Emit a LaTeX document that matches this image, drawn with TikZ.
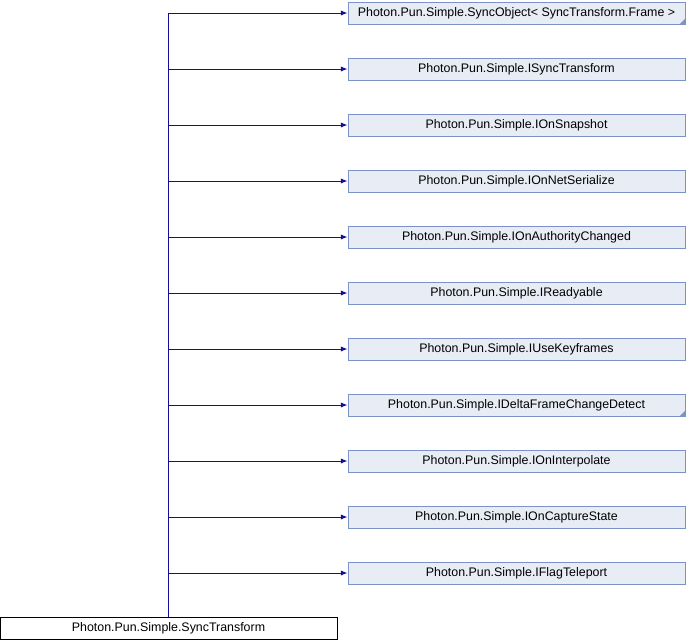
\documentclass[tikz,border=0pt]{standalone}
\usepackage{fontspec}
\setmainfont{Liberation Sans}
\usetikzlibrary{arrows.meta}
\definecolor{boxfill}{HTML}{E8ECF5}
\definecolor{boxdraw}{HTML}{7C93C8}
\definecolor{edgecol}{HTML}{10109A}
\tikzset{
  cls/.style={draw=boxdraw, fill=boxfill, line width=0.75pt, minimum width=337*0.75pt, minimum height=22*0.75pt, inner sep=0pt, font=\fontsize{9.3pt}{11pt}\selectfont},
  basecls/.style={draw=black, fill=white, line width=0.75pt, minimum width=337*0.75pt, minimum height=22*0.75pt, inner sep=0pt, font=\fontsize{9.3pt}{11pt}\selectfont},
  inh/.style={draw=edgecol, line width=0.75pt, -{Latex[length=5pt,width=4pt]}},
}
\begin{document}
\begin{tikzpicture}[x=0.75pt,y=-0.75pt]
\useasboundingbox (0,0) rectangle (686,640);
\node[basecls] (base) at (168.5,628) {Photon.Pun.Simple.SyncTransform};
\node[cls] (t1) at (516.5,13) {Photon.Pun.Simple.SyncObject< SyncTransform.Frame >};
\node[cls] (t2) at (516.5,69) {Photon.Pun.Simple.ISyncTransform};
\node[cls] (t3) at (516.5,125) {Photon.Pun.Simple.IOnSnapshot};
\node[cls] (t4) at (516.5,181) {Photon.Pun.Simple.IOnNetSerialize};
\node[cls] (t5) at (516.5,237) {Photon.Pun.Simple.IOnAuthorityChanged};
\node[cls] (t6) at (516.5,293) {Photon.Pun.Simple.IReadyable};
\node[cls] (t7) at (516.5,349) {Photon.Pun.Simple.IUseKeyframes};
\node[cls] (t8) at (516.5,405) {Photon.Pun.Simple.IDeltaFrameChangeDetect};
\node[cls] (t9) at (516.5,461) {Photon.Pun.Simple.IOnInterpolate};
\node[cls] (t10) at (516.5,517) {Photon.Pun.Simple.IOnCaptureState};
\node[cls] (t11) at (516.5,573) {Photon.Pun.Simple.IFlagTeleport};
\fill[boxdraw] ([xshift=-0.4pt,yshift=0.4pt]t1.south east) -- ++(0,-5) -- ++(-5,5) -- cycle;
\fill[boxdraw] ([xshift=-0.4pt,yshift=0.4pt]t8.south east) -- ++(0,-5) -- ++(-5,5) -- cycle;
\foreach \i in {1,...,11} {
  \draw[inh] (base.north) |- (t\i.west);
}
\end{tikzpicture}
\end{document}
